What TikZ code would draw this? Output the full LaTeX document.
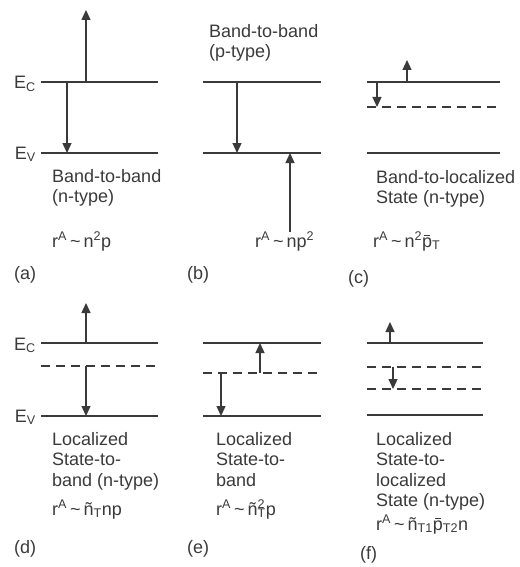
\documentclass[tikz,border=0pt]{standalone}
\usepackage{fontspec}
\setmainfont{Liberation Sans}
\usetikzlibrary{arrows.meta}
\definecolor{inkgray}{RGB}{58,58,58}
% p with a short bar over it
\newcommand{\barp}{\setbox0\hbox{p}\rlap{\hbox to\wd0{\hss\rule[0.6em]{0.34em}{0.06em}\hss}}p}
\newcommand{\rA}{r\textsuperscript{A}\,\textasciitilde\,}

\begin{document}
\begin{tikzpicture}[x=1pt,y=-1pt, every node/.style={font=\fontsize{18}{20.5}\selectfont, text=inkgray, inner sep=0pt},
    band/.style={inkgray, line width=1.3pt},
    trap/.style={inkgray, line width=1.3pt, dash pattern=on 9pt off 6pt},
    jump/.style={inkgray, line width=1.3pt, -{Triangle[length=10pt,width=9pt]}},
    caption/.style={anchor=north west, align=left}]
  \useasboundingbox (0,0) rectangle (519,567);
  % bands and localized levels
  \foreach \xa/\xb/\y in {41/158/82,41/158/153,203/321/82,203/321/153,367/500/82,367/500/153,
                          41/158/343,41/158/416,203/321/343,203/321/416,367/483/343,367/483/415}
    \draw[band] (\xa,\y) -- (\xb,\y);
  \foreach \xa/\xb/\y in {367/500/107,41/158/366,203/321/373,367/483/367,367/483/389}
    \draw[trap] (\xa,\y) -- (\xb,\y);
  % transitions
  \foreach \n/\x/\ys/\yt in {a1/86/82/10,a2/67/82/153,b1/237/82/153,b2/290/232/153,c1/407/82/60,c2/377/82/107,
                             d1/86/343/303,d2/86/366/416,e1/260/373/343,e2/221/373/416,f1/390/343/322,f2/393/367/389} {
    \coordinate (\n s) at (\x,\ys);
    \coordinate (\n t) at (\x,\yt);
    \draw[jump] (\n s) -- (\n t);
  }
  % level names
  \node[anchor=base east] (ectop) at (36,89) {E\textsubscript{C}};
  \node[anchor=base east] (evtop) at (36,159) {E\textsubscript{V}};
  \node[anchor=base east] (ecbot) at (36,350) {E\textsubscript{C}};
  \node[anchor=base east] (evbot) at (36,422) {E\textsubscript{V}};
  % captions
  \node[caption] (capa) at (52,169) {Band-to-band\\(n-type)};
  \node[caption] (capb) at (209,24) {Band-to-band\\(p-type)};
  \node[caption] (capc) at (376,170) {Band-to-localized\\State (n-type)};
  \node[caption] (capd) at (52,432) {Localized\\State-to-\\band (n-type)};
  \node[caption] (cape) at (216,432) {Localized\\State-to-\\band};
  \node[caption] (capf) at (376,432) {Localized\\State-to-\\localized\\State (n-type)};
  % rates
  \node[anchor=base west] (ratea) at (52,247) {\rA n\textsuperscript{2}p};
  \node[anchor=base west] (rateb) at (255,247) {\rA np\textsuperscript{2}};
  \node[anchor=base west] (ratec) at (373,247) {\rA n\textsuperscript{2}\barp\textsubscript{T}};
  \node[anchor=base west] (rated) at (52,515) {\rA ñ\textsubscript{T}np};
  \node[anchor=base west] (ratee) at (216,515) {\rA ñ\rlap{\textsuperscript{2}}\textsubscript{T}p};
  \node[anchor=base west] (ratef) at (376,530) {\rA ñ\textsubscript{T1}\barp\textsubscript{T2}n};
  % panel letters
  \node[anchor=base west] (pa) at (14,279) {(a)};
  \node[anchor=base west] (pb) at (187,279) {(b)};
  \node[anchor=base west] (pc) at (348,283) {(c)};
  \node[anchor=base west] (pd) at (14,553) {(d)};
  \node[anchor=base west] (pe) at (187,553) {(e)};
  \node[anchor=base west] (pf) at (360,559) {(f)};
\end{tikzpicture}
\end{document}
